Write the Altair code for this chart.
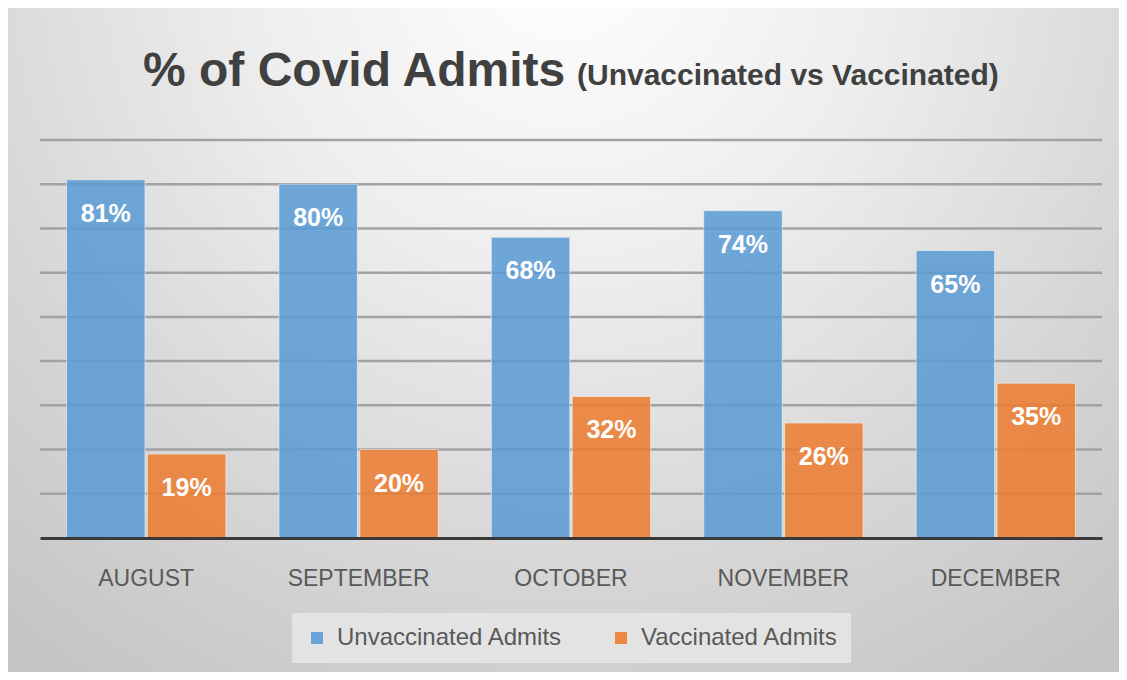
import altair as alt
import pandas as pd

# ---- data ----
months = ["AUGUST", "SEPTEMBER", "OCTOBER", "NOVEMBER", "DECEMBER"]
unvaccinated = [81, 80, 68, 74, 65]
vaccinated = [19, 20, 32, 26, 35]
series_names = ["Unvaccinated Admits", "Vaccinated Admits"]
grid_ticks = [10, 20, 30, 40, 50, 60, 70, 80, 90]
title_main = "% of Covid Admits"
title_sub = "(Unvaccinated vs Vaccinated)"

rows = []
for m, u, v in zip(months, unvaccinated, vaccinated):
    rows.append({"month": m, "series": series_names[0], "value": u})
    rows.append({"month": m, "series": series_names[1], "value": v})
df = pd.DataFrame(rows)

W, H = 1062, 398
FONT = "Liberation Sans, Arial, sans-serif"

y_scale = alt.Scale(domain=[0, 90], nice=False, zero=True)

x_enc = alt.X(
    "month:N",
    sort=months,
    scale=alt.Scale(paddingInner=0.25, paddingOuter=0.125),
    axis=alt.Axis(
        title=None, labelAngle=0, labelFont=FONT, labelFontSize=23,
        labelColor="#595959", ticks=False, tickSize=0, labelPadding=29,
        domain=True, domainColor="#3a3a3a", domainWidth=3, grid=False, zindex=1,
    ),
)
xoff_enc = alt.XOffset("series:N", sort=series_names,
                       scale=alt.Scale(paddingInner=0.03, paddingOuter=0))
y_enc = alt.Y("value:Q", scale=y_scale, axis=None)

color_enc = alt.Color(
    "series:N",
    sort=series_names,
    scale=alt.Scale(domain=series_names, range=["#5b9bd5", "#ed7d31"]),
    legend=alt.Legend(
        orient="none", legendX=252, legendY=473, direction="horizontal",
        title=None, fillColor="#e3e3e3", padding=13,
        labelFont=FONT, labelFontSize=24, labelColor="#595959", labelLimit=500,
        symbolType="square", symbolSize=144, symbolStrokeWidth=0,
        symbolOpacity=0.9, labelOffset=8, columnPadding=46,
    ),
)

gradient = alt.RadialGradient(
    gradient="radial",
    stops=[
        alt.GradientStop(offset=0, color="#ffffff"),
        alt.GradientStop(offset=0.35, color="#eeeeee"),
        alt.GradientStop(offset=0.7, color="#d6d6d6"),
        alt.GradientStop(offset=1, color="#c4c4c4"),
    ],
    x1=0.5, y1=0.15, r1=0, x2=0.5, y2=0.15, r2=0.8,
)

bg = alt.Chart(pd.DataFrame({"k": [0]})).mark_rect(fill=gradient, strokeWidth=0).encode(
    x=alt.value(-32), x2=alt.value(W + 17), y=alt.value(-132), y2=alt.value(H + 134)
)

grid = alt.Chart(pd.DataFrame({"tick": grid_ticks})).mark_rule(
    color="#a2a2a2", strokeWidth=2.5
).encode(y=alt.Y("tick:Q", scale=y_scale, axis=None))

base = alt.Chart(df)

bars = base.mark_bar(
    fillOpacity=0.87, stroke="#f4f4f4", strokeWidth=1, strokeOpacity=0.6
).encode(x=x_enc, xOffset=xoff_enc, y=y_enc, color=color_enc)

labels = base.transform_calculate(
    label="format(datum.value, 'd') + '%'"
).mark_text(
    font=FONT, fontSize=25, fontWeight="bold", color="white",
    baseline="alphabetic", align="center", dy=42,
).encode(x=x_enc, xOffset=xoff_enc, y=y_enc, text="label:N")

t1 = alt.Chart(pd.DataFrame({"t": [title_main]})).mark_text(
    font=FONT, fontSize=48, fontWeight="bold", color="#404040",
    align="left", baseline="alphabetic",
).encode(text="t:N", x=alt.value(103), y=alt.value(-54))

t2 = alt.Chart(pd.DataFrame({"t": [title_sub]})).mark_text(
    font=FONT, fontSize=30, fontWeight="bold", color="#404040",
    align="left", baseline="alphabetic",
).encode(text="t:N", x=alt.value(537), y=alt.value(-55))

chart = alt.layer(bg, grid, bars, labels, t1, t2).properties(
    width=W, height=H, padding=0, background="#ffffff"
).configure_view(strokeWidth=0)

chart.save("out.html", embed_options={"renderer": "svg", "actions": False})
